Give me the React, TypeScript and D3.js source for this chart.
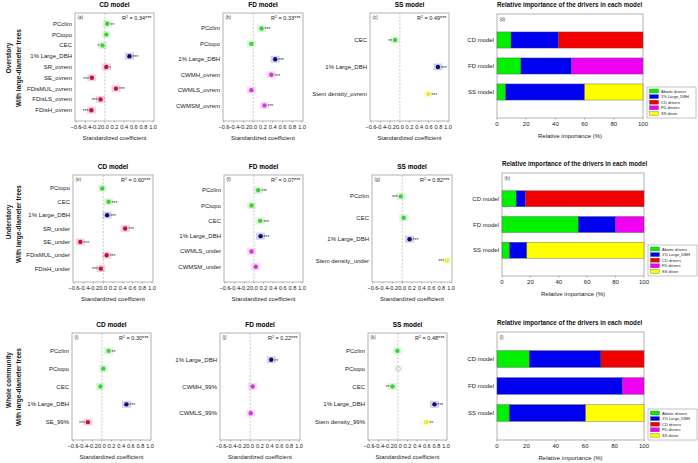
import React from "react";
import * as d3 from "d3";

const W = 698;
const H = 463;

// ---------- DATA ----------
const xTicks = [-0.6, -0.4, -0.2, 0.0, 0.2, 0.4, 0.6, 0.8, 1.0];
const barTicks = [0, 20, 40, 60, 80, 100];
const models = ["CD model", "FD model", "SS model"];
const driverNames = ["Abiotic drivers", "1% Large_DBH", "CD drivers", "FD drivers", "SS driver"];
const driverKeys = ["abiotic", "large", "cd", "fd", "ss"];

// (a) Overstory CD
const aLabels = ["PCclim", "PCtopo", "CEC", "1% Large_DBH", "SR_ovrem", "SE_ovrem", "FDisMUL_ovrem", "FDisLS_ovrem", "FDisH_ovrem"];
const aValues = [0.05, 0.03, -0.05, 0.51, 0.03, -0.27, 0.23, -0.09, -0.28];
const aStars = ["**", "", "*", "***", "*", "***", "***", "***", "***"];
const aGroups = ["abiotic", "abiotic", "abiotic", "large", "cd", "cd", "cd", "cd", "cd"];
// (b) Overstory FD
const bLabels = ["PCclim", "PCtopo", "1% Large_DBH", "CWMH_ovrem", "CWMLS_ovrem", "CWMSM_ovrem"];
const bValues = [0.17, -0.04, 0.45, 0.37, -0.04, 0.23];
const bStars = ["***", "", "***", "***", "", "***"];
const bGroups = ["abiotic", "abiotic", "large", "fd", "fd", "fd"];
// (c) Overstory SS
const cLabels = ["CEC", "1% Large_DBH", "Stem density_ovrem"];
const cValues = [-0.1, 0.79, 0.59];
const cStars = ["**", "***", "***"];
const cGroups = ["abiotic", "large", "ss"];
// (e) Understory CD
const eLabels = ["PCtopo", "CEC", "1% Large_DBH", "SR_under", "SE_under", "FDisMUL_under", "FDisH_under"];
const eValues = [-0.02, 0.11, 0.08, 0.45, -0.47, 0.07, -0.05];
const eStars = ["", "***", "***", "***", "***", "***", "***"];
const eGroups = ["abiotic", "abiotic", "large", "cd", "cd", "cd", "cd"];
// (f) Understory FD
const fLabels = ["PCclim", "PCtopo", "CEC", "1% Large_DBH", "CWMLS_under", "CWMSM_under"];
const fValues = [0.09, -0.05, 0.13, 0.14, -0.05, 0.04];
const fStars = ["***", "", "***", "***", "", ""];
const fGroups = ["abiotic", "abiotic", "abiotic", "large", "fd", "fd"];
// (g) Understory SS
const gLabels = ["PCclim", "CEC", "1% Large_DBH", "Stem density_under"];
const gValues = [-0.03, 0.03, 0.15, 0.92];
const gStars = ["***", "", "***", "***"];
const gGroups = ["abiotic", "abiotic", "large", "ss"];
// (i) Whole community CD
const iLabels = ["PCclim", "PCtopo", "CEC", "1% Large_DBH", "SE_99%"];
const iValues = [0.14, 0.03, -0.03, 0.51, -0.29];
const iStars = ["**", "", "", "***", "***"];
const iGroups = ["abiotic", "abiotic", "abiotic", "large", "cd"];
// (j) Whole community FD
const jLabels = ["1% Large_DBH", "CWMH_99%", "CWMLS_99%"];
const jValues = [0.43, 0.05, 0.01];
const jStars = ["**", "", ""];
const jGroups = ["large", "fd", "fd"];
// (k) Whole community SS
const kLabels = ["PCclim", "PCtopo", "CEC", "1% Large_DBH", "Stem density_99%"];
const kValues = [-0.01, 0.01, -0.11, 0.76, 0.59];
const kStars = ["", "", "**", "***", "**"];
const kGroups = ["abiotic", "ns", "abiotic", "large", "ss"];

// relative importance (%) per model [CD, FD, SS]
const dAbiotic = [9.6, 16.4, 6.0];
const dLarge = [32.4, 34.6, 54.0];
const dCD = [58.0, 0, 0];
const dFD = [0, 49.0, 0];
const dSS = [0, 0, 40.0];

const hAbiotic = [10.0, 53.7, 5.4];
const hLarge = [6.4, 26.3, 12.1];
const hCD = [83.6, 0, 0];
const hFD = [0, 20.0, 0];
const hSS = [0, 0, 82.5];

const lAbiotic = [22.0, 0, 8.4];
const lLarge = [48.7, 85.3, 51.9];
const lCD = [29.3, 0, 0];
const lFD = [0, 14.7, 0];
const lSS = [0, 0, 39.7];

// ---------- STYLE ----------
const FONT = "'Liberation Sans', Arial, sans-serif";
const PT_COLORS: Record<string, string> = {
  abiotic: "#3fcf3f",
  large: "#0c0c78",
  cd: "#c4103c",
  fd: "#d03cd0",
  ss: "#eaea3a",
  ns: "#eef5ee",
};
const BAR_COLORS = ["#00f000", "#0000f0", "#f00000", "#f000f0", "#ffff00"];

type Box = { x0: number; x1: number; y0: number; y1: number };

function Forest(props: {
  box: Box; title: string; tag: string; r2: string;
  labels: string[]; values: number[]; stars: string[]; groups: string[];
}) {
  const { box, title, tag, r2, labels, values, stars, groups } = props;
  const x = d3.scaleLinear().domain([-0.62, 1.02]).range([box.x0, box.x1]);
  const y = d3.scalePoint<string>().domain(labels).range([box.y0, box.y1]).padding(1);
  const fmt = d3.format(".1f");
  const cx = (box.x0 + box.x1) / 2;
  return (
    <g fontFamily={FONT}>
      <text x={cx} y={box.y0 - 6} textAnchor="middle" fontSize={6.5} fontWeight="bold">{title}</text>
      <rect x={box.x0} y={box.y0} width={box.x1 - box.x0} height={box.y1 - box.y0} fill="#fff" stroke="#a0a0a0" strokeWidth={0.8} />
      <line x1={x(0)} x2={x(0)} y1={box.y0} y2={box.y1} stroke="#a8a8a8" strokeWidth={0.6} strokeDasharray="2,1.5" />
      <text x={box.x0 + 2.5} y={box.y0 + 6} fontSize={4.5} fill="#333">{tag}</text>
      <text x={box.x1 - 2.5} y={box.y0 + 6.5} fontSize={5.5} textAnchor="end" fill="#222">
        R<tspan fontSize={3.6} dy={-2}>2</tspan><tspan dy={2}>{" = " + r2}</tspan>
      </text>
      {labels.map((l, i) => {
        const v = values[i];
        const py = y(l) as number;
        const px = x(v);
        const col = PT_COLORS[groups[i]];
        const left = (v < 0 && v > -0.4) || v > 0.85;
        return (
          <g key={l}>
            <text x={box.x0 - 3} y={py + 2} textAnchor="end" fontSize={6} fill="#222">{l}</text>
            <rect x={px - 4.5} y={py - 3.5} width={9} height={7} fill={groups[i] === "ns" ? "#bfe8bf" : col} opacity={0.18} />
            <circle cx={px} cy={py} r={2.2} fill={col} stroke={groups[i] === "ns" ? "#9a9a9a" : "none"} strokeWidth={0.5} />
            {stars[i] ? (
              <text x={left ? px - 3 : px + 3} y={py + 2.8} textAnchor={left ? "end" : "start"} fontSize={5} fill="#333">{stars[i]}</text>
            ) : null}
          </g>
        );
      })}
      {xTicks.map((t) => (
        <g key={t}>
          <line x1={x(t)} x2={x(t)} y1={box.y1} y2={box.y1 + 1.5} stroke="#666" strokeWidth={0.5} />
          <text x={x(t)} y={box.y1 + 7.5} textAnchor="middle" fontSize={5.6} fill="#222">{fmt(t)}</text>
        </g>
      ))}
      <text x={cx} y={box.y1 + 18.5} textAnchor="middle" fontSize={6} fill="#222">Standardized coefficient</text>
    </g>
  );
}

function Bars(props: { box: Box; tag: string; series: number[][] }) {
  const { box, tag, series } = props;
  const rows = models.map((m, mi) => {
    const o: Record<string, any> = { model: m };
    driverKeys.forEach((k, ki) => (o[k] = series[ki][mi]));
    return o;
  });
  const stacked = d3.stack<any>().keys(driverKeys)(rows);
  const x = d3.scaleLinear().domain([0, 100]).range([box.x0, box.x1]);
  const y = d3.scalePoint<string>().domain(models).range([box.y0, box.y1]).padding(1);
  const bh = y.step() * 0.62;
  const lx = box.x1 + 4;
  const ly = box.y1 - 31;
  return (
    <g fontFamily={FONT}>
      <text x={box.x0} y={box.y0 - 7} fontSize={6.3} fontWeight="bold" fill="#111">Relative importance of the drivers in each model</text>
      <rect x={box.x0} y={box.y0} width={box.x1 - box.x0} height={box.y1 - box.y0} fill="#fff" stroke="#a0a0a0" strokeWidth={0.8} />
      <text x={box.x0 + 2.5} y={box.y0 + 6.5} fontSize={4.5} fill="#333">{tag}</text>
      {stacked.map((s, si) => (
        <g key={s.key}>
          {s.map((d, di) =>
            d[1] - d[0] > 0 ? (
              <rect key={di} x={x(d[0])} width={x(d[1]) - x(d[0])} y={(y(models[di]) as number) - bh / 2} height={bh}
                fill={BAR_COLORS[si]} stroke="#555" strokeWidth={0.4} />
            ) : null
          )}
        </g>
      ))}
      {models.map((m) => (
        <text key={m} x={box.x0 - 3} y={(y(m) as number) + 2} textAnchor="end" fontSize={6} fill="#222">{m}</text>
      ))}
      {barTicks.map((t) => (
        <g key={t}>
          <line x1={x(t)} x2={x(t)} y1={box.y1} y2={box.y1 + 1.5} stroke="#666" strokeWidth={0.5} />
          <text x={x(t)} y={box.y1 + 8} textAnchor="middle" fontSize={6} fill="#222">{t}</text>
        </g>
      ))}
      <text x={(box.x0 + box.x1) / 2} y={box.y1 + 20} textAnchor="middle" fontSize={6} fill="#222">Relative importance (%)</text>
      <rect x={lx} y={ly} width={49} height={31} fill="#fff" stroke="#888" strokeWidth={0.5} />
      {driverNames.map((n, i) => (
        <g key={n}>
          <rect x={lx + 2.5} y={ly + 2 + i * 5.6} width={9} height={4} fill={BAR_COLORS[i]} stroke="#444" strokeWidth={0.3} />
          <text x={lx + 14} y={ly + 5.5 + i * 5.6} fontSize={4} fill="#222">{n}</text>
        </g>
      ))}
    </g>
  );
}

function RowLabel(props: { x: number; y: number; text: string }) {
  return (
    <text transform={`translate(${props.x},${props.y}) rotate(-90)`} textAnchor="middle" fontFamily={FONT} fontSize={6.5} fontWeight="bold" fill="#111">
      {props.text}
    </text>
  );
}

export default function App() {
  const r1 = { y0: 13, y1: 121 };
  const r2 = { y0: 175, y1: 282 };
  const r3 = { y0: 333, y1: 440 };
  return (
    <svg width={W} height={H} style={{ position: "absolute", left: 0, top: 0, background: "#fff" }}>
      <rect width={W} height={H} fill="#fff" />
      <RowLabel x={11} y={58} text="Overstory" />
      <RowLabel x={21} y={68} text="With large-diameter trees" />
      <RowLabel x={11} y={222} text="Understory" />
      <RowLabel x={21} y={224} text="With large-diameter trees" />
      <RowLabel x={11} y={380} text="Whole community" />
      <RowLabel x={21} y={387} text="With large-diameter trees" />

      <Forest box={{ x0: 75, x1: 154, ...r1 }} title="CD model" tag="(a)" r2="0.34***" labels={aLabels} values={aValues} stars={aStars} groups={aGroups} />
      <Forest box={{ x0: 223, x1: 303, ...r1 }} title="FD model" tag="(b)" r2="0.33***" labels={bLabels} values={bValues} stars={bStars} groups={bGroups} />
      <Forest box={{ x0: 370, x1: 449, ...r1 }} title="SS model" tag="(c)" r2="0.49***" labels={cLabels} values={cValues} stars={cStars} groups={cGroups} />
      <Bars box={{ x0: 497, x1: 643, y0: 14, y1: 118 }} tag="(d)" series={[dAbiotic, dLarge, dCD, dFD, dSS]} />

      <Forest box={{ x0: 73, x1: 153, ...r2 }} title="CD model" tag="(e)" r2="0.60***" labels={eLabels} values={eValues} stars={eStars} groups={eGroups} />
      <Forest box={{ x0: 224, x1: 303, ...r2 }} title="FD model" tag="(f)" r2="0.07***" labels={fLabels} values={fValues} stars={fStars} groups={fGroups} />
      <Forest box={{ x0: 372, x1: 452, ...r2 }} title="SS model" tag="(g)" r2="0.82***" labels={gLabels} values={gValues} stars={gStars} groups={gGroups} />
      <Bars box={{ x0: 502, x1: 644, y0: 173, y1: 276 }} tag="(h)" series={[hAbiotic, hLarge, hCD, hFD, hSS]} />

      <Forest box={{ x0: 72, x1: 151, ...r3 }} title="CD model" tag="(i)" r2="0.30***" labels={iLabels} values={iValues} stars={iStars} groups={iGroups} />
      <Forest box={{ x0: 220, x1: 300, ...r3 }} title="FD model" tag="(j)" r2="0.22***" labels={jLabels} values={jValues} stars={jStars} groups={jGroups} />
      <Forest box={{ x0: 368, x1: 447, ...r3 }} title="SS model" tag="(k)" r2="0.48***" labels={kLabels} values={kValues} stars={kStars} groups={kGroups} />
      <Bars box={{ x0: 497, x1: 644, y0: 332, y1: 440 }} tag="(l)" series={[lAbiotic, lLarge, lCD, lFD, lSS]} />
    </svg>
  );
}
